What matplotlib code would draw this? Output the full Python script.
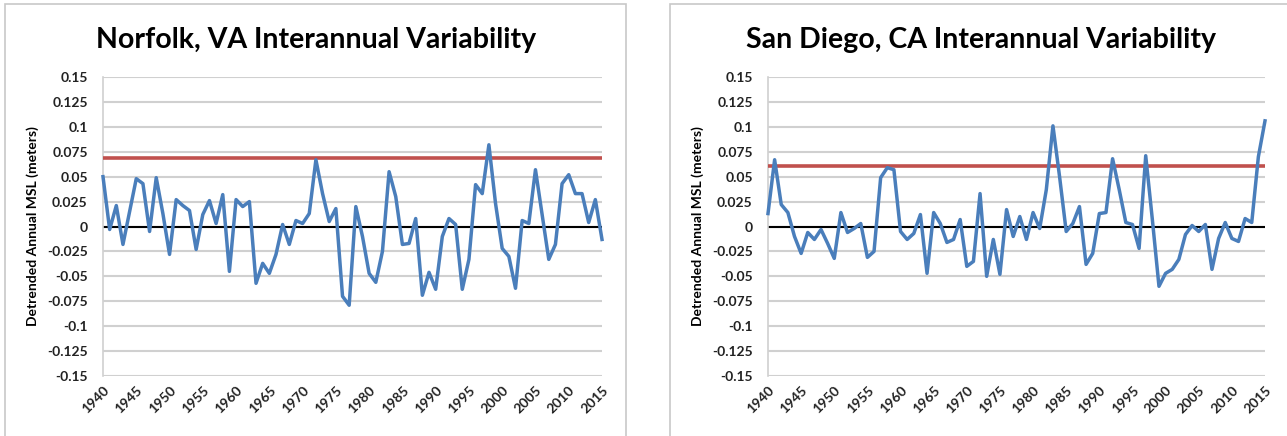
import numpy as np
import matplotlib
matplotlib.use("Agg")
from matplotlib import pyplot as plt
from matplotlib.patches import Rectangle

years = np.arange(1940, 2016)

# detrended annual mean sea level (m)
norfolk = [0.050, -0.003, 0.021, -0.018, 0.015, 0.048, 0.043, -0.005, 0.049, 0.013,
           -0.028, 0.027, 0.021, 0.016, -0.023, 0.012, 0.026, 0.003, 0.032, -0.045,
           0.027, 0.020, 0.025, -0.057, -0.037, -0.047, -0.028, 0.002, -0.018, 0.006,
           0.003, 0.013, 0.067, 0.033, 0.005, 0.018, -0.070, -0.079, 0.020, -0.010,
           -0.047, -0.056, -0.025, 0.055, 0.030, -0.018, -0.017, 0.008, -0.069, -0.046,
           -0.063, -0.010, 0.008, 0.002, -0.063, -0.033, 0.042, 0.033, 0.082, 0.023,
           -0.022, -0.030, -0.062, 0.006, 0.003, 0.057, 0.012, -0.033, -0.018, 0.043,
           0.052, 0.033, 0.033, 0.004, 0.027, -0.013]
san_diego = [0.013, 0.067, 0.022, 0.014, -0.010, -0.027, -0.006, -0.013, -0.003, -0.017,
             -0.032, 0.014, -0.006, -0.002, 0.003, -0.031, -0.025, 0.049, 0.059, 0.057,
             -0.005, -0.013, -0.007, 0.012, -0.047, 0.014, 0.003, -0.016, -0.013, 0.007,
             -0.040, -0.035, 0.033, -0.050, -0.013, -0.048, 0.017, -0.010, 0.010, -0.013,
             0.014, -0.002, 0.037, 0.101, 0.050, -0.005, 0.003, 0.020, -0.038, -0.027,
             0.013, 0.014, 0.068, 0.037, 0.004, 0.002, -0.022, 0.071, 0.007, -0.060,
             -0.047, -0.043, -0.033, -0.008, 0.001, -0.005, 0.002, -0.043, -0.012, 0.004,
             -0.012, -0.015, 0.008, 0.004, 0.070, 0.106]

thresholds = [0.069, 0.061]
titles = ["Norfolk, VA Interannual Variability", "San Diego, CA Interannual Variability"]
series = [norfolk, san_diego]

yticks = np.round(np.arange(-0.15, 0.1501, 0.025), 3)
ytick_labels = ["{:g}".format(v) if v != 0 else "0" for v in yticks]
xticks = np.arange(1940, 2016, 5)

plt.rcParams['font.family'] = ['Lato', 'DejaVu Sans']
plt.rcParams['font.weight'] = 'bold'

W, H = 1287, 436
fig = plt.figure(figsize=(W / 100, H / 100), dpi=100)

# chart frames
for x0, x1 in [(5, 626), (670, 1300)]:
  fig.add_artist(Rectangle((x0 / W, -0.05), (x1 - x0) / W, 1.05 - 4 / H,
                           transform=fig.transFigure, fill=False,
                           edgecolor="#c8c8c8", lw=1.2, clip_on=False))

axes_boxes = [(103, 602), (768, 1265)]
title_x = [316, 981]
for k in range(2):
  x0, x1 = axes_boxes[k]
  ax = fig.add_axes([x0 / W, 1 - 376 / H, (x1 - x0) / W, 299 / H])
  ax.set_xlim(1940, 2015)
  ax.set_ylim(-0.15, 0.15)
  ax.set_yticks(yticks)
  ax.set_yticklabels(ytick_labels)
  ax.set_xticks(xticks)
  ax.set_xticklabels([str(y) for y in xticks], rotation=45, ha="right",
                     rotation_mode="anchor")
  ax.grid(axis="y", color="#d0d0d0", lw=1.5)
  ax.set_axisbelow(True)
  for s in ["top", "right", "bottom"]:
    ax.spines[s].set_visible(False)
  ax.spines["left"].set_color("#d0d0d0")
  ax.spines["left"].set_linewidth(1.2)
  ax.tick_params(length=0, labelsize=10, colors="#222222")
  ax.tick_params(axis="y", pad=11)
  ax.tick_params(axis="x", pad=6)
  ax.axhline(0, color="black", lw=1.5, zorder=2)
  ax.axhline(thresholds[k], color="#c0504d", lw=2.6, zorder=3)
  ax.plot(years, series[k], color="#4a7ebb", lw=2.5, zorder=4, clip_on=False)
  ax.set_ylabel("Detrended Annual MSL (meters)", fontsize=10, fontweight="bold",
                labelpad=6)
  fig.text(title_x[k] / W, 1 - 40 / H, titles[k], ha="center", va="center",
           fontsize=20.5, fontweight="bold")

fig.savefig("out.png", dpi=100, facecolor="white")
